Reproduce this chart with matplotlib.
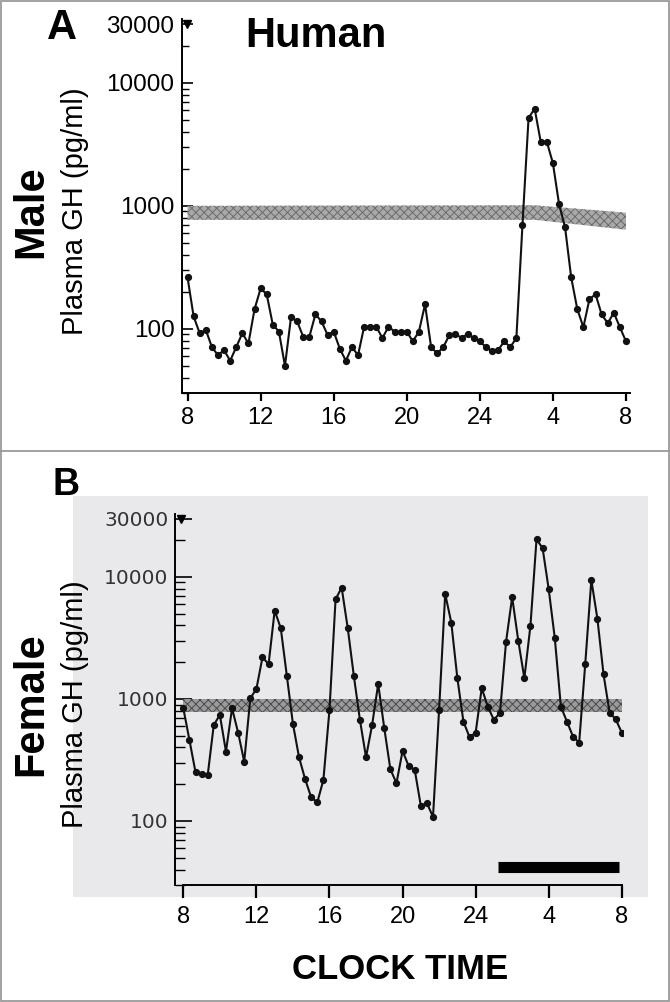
import numpy as np
import matplotlib
matplotlib.use("Agg")
import matplotlib.pyplot as plt
from matplotlib.patches import Rectangle
from matplotlib.lines import Line2D
from matplotlib.ticker import LogLocator, NullFormatter

plt.rcParams['font.family'] = ['Liberation Sans', 'DejaVu Sans']
plt.rcParams['hatch.linewidth'] = 0.7

# clock hours (8 = 08:00, 32 = 08:00 next day), samples every 20 min
tick_hours = [8, 12, 16, 20, 24, 28, 32]
tick_labels = ['8', '12', '16', '20', '24', '4', '8']
y_ticks = [100, 1000, 10000, 30000]
y_tick_labels = ['100', '1000', '10000', '30000']

# plasma GH (pg/ml), panel A (male)
male_gh = [262, 126, 92, 98, 71, 61, 67, 55, 71, 92,
           76, 144, 213, 191, 108, 95, 50, 125, 115, 86,
           86, 131, 115, 89, 95, 69, 55, 71, 61, 104,
           104, 104, 84, 104, 95, 95, 95, 79, 95, 158,
           71, 63, 71, 89, 91, 84, 91, 84, 79, 71,
           66, 67, 79, 71, 84, 700, 5170, 6180, 3316, 3316,
           2224, 1040, 667, 262, 145, 103, 174, 191, 131, 111,
           135, 103, 79]

# plasma GH (pg/ml), panel B (female)
female_gh = [839, 461, 251, 243, 237, 612, 739, 370, 839, 529,
             306, 1013, 1208, 2197, 1924, 5296, 3800, 1544, 624, 333,
             220, 156, 142, 217, 813, 6565, 8166, 3800, 1544, 673,
             333, 612, 1327, 575, 265, 204, 375, 282, 262, 133,
             140, 108, 813, 7260, 4227, 1479, 651, 486, 529, 1224,
             865, 673, 772, 2950, 6820, 3006, 1479, 3981, 20370, 17180,
             7930, 3145, 865, 651, 491, 438, 1936, 9446, 4527, 1594,
             772, 682, 529]

# shaded assay band
band_a_hours = [8, 27, 32]
band_a_lo = [770, 770, 640]
band_a_hi = [1000, 1010, 880]
band_b_hours = [8, 32]
band_b_lo = [780, 780]
band_b_hi = [1000, 1000]

# sleep bar (panel B)
sleep_hours = [25.2, 31.85]
sleep_level = [42, 42]


def style_axes(ax, xlim, major_len, minor_len, ylab_size, xtick_len, xpad):
    ax.set_yscale('log')
    ax.set_ylim(30, 33000)
    ax.set_xlim(*xlim)
    for s in ('top', 'right'):
        ax.spines[s].set_visible(False)
    ax.spines['left'].set_linewidth(1.4)
    ax.spines['bottom'].set_linewidth(1.4)
    ax.set_yticks(y_ticks, labels=y_tick_labels)
    ax.yaxis.set_minor_locator(LogLocator(base=10, subs=np.arange(2, 10)))
    ax.yaxis.set_minor_formatter(NullFormatter())
    ax.set_xticks(tick_hours, labels=tick_labels)
    ax.tick_params(axis='y', which='major', direction='in', length=major_len,
                   width=1.2, pad=5, labelsize=ylab_size)
    ax.tick_params(axis='y', which='minor', direction='in', length=minor_len, width=1.0)
    ax.tick_params(axis='x', which='major', direction='out', length=xtick_len,
                   width=1.6, pad=xpad, labelsize=17)
    ax.plot([0.012], [30000], marker='v', ms=6, color='k',
            transform=ax.get_yaxis_transform(), clip_on=False)


fig = plt.figure(figsize=(6.7, 10.02), dpi=100)

# panel B grey background, frame and separator
fig.patches.append(Rectangle((0.109, 0.1048), 0.858, 0.400, transform=fig.transFigure,
                             facecolor='#e9e9eb', edgecolor='none', zorder=-5))
fig.patches.append(Rectangle((0.0015, 0.001), 0.997, 0.998, transform=fig.transFigure,
                             fill=False, edgecolor='#9a9a9a', lw=1.3, zorder=-4))
fig.lines.append(Line2D([0, 1], [1 - 450.5 / 1002] * 2, transform=fig.transFigure,
                        color='#9a9a9a', lw=1.3, zorder=-4))

# ---- panel A ----
axA = fig.add_axes([0.2709, 0.6077, 0.6694, 0.3732])
axA.patch.set_alpha(0)
style_axes(axA, (7.67, 32.22), 8, 5, 17.5, 6, 4)
times_a = 8 + np.arange(len(male_gh)) / 3
axA.fill_between(band_a_hours, band_a_lo, band_a_hi, facecolor='#a9a9a9',
                 edgecolor='#6c6c6c', hatch='xxxx', linewidth=0, zorder=2)
axA.plot(times_a, male_gh, '-o', color='#111111', lw=1.5, ms=4.2, zorder=3)

# ---- panel B ----
axB = fig.add_axes([0.2619, 0.1170, 0.6675, 0.3704])
axB.set_facecolor('none')
style_axes(axB, (7.57, 32.05), 12, 7, 14.5, 9, 6)
axB.spines['bottom'].set_bounds(8, 32)
for lab in axB.get_yticklabels():
    lab.set_family('DejaVu Sans')
    lab.set_color('#333333')
times_b = 8 + np.arange(len(female_gh)) / 3
axB.fill_between(band_b_hours, band_b_lo, band_b_hi, facecolor='#9a9a9a',
                 edgecolor='#4a4a4a', hatch='xxxx', linewidth=0, zorder=2)
axB.plot(times_b, female_gh, '-o', color='#111111', lw=1.5, ms=4.2, zorder=3)
axB.plot(sleep_hours, sleep_level, color='black', lw=8, solid_capstyle='butt', zorder=3)

# ---- text ----
fig.text(0.0925, 0.9716, 'A', fontsize=30, fontweight='bold', ha='center', va='center')
fig.text(0.4716, 0.964, 'Human', fontsize=30, fontweight='bold', ha='center', va='center')
fig.text(0.0993, 0.516, 'B', fontsize=27, fontweight='bold', ha='center', va='center')
fig.text(0.0463, 0.789, 'Male', fontsize=30, fontweight='bold', rotation=90,
         ha='center', va='center')
fig.text(0.0463, 0.2974, 'Female', fontsize=30, fontweight='bold', rotation=90,
         ha='center', va='center')
fig.text(0.112, 0.7894, 'Plasma GH (pg/ml)', fontsize=21, rotation=90,
         ha='center', va='center')
fig.text(0.112, 0.297, 'Plasma GH (pg/ml)', fontsize=21, rotation=90,
         ha='center', va='center')
fig.text(0.597, 0.032, 'CLOCK TIME', fontsize=25, fontweight='bold',
         ha='center', va='center')

fig.savefig('out.png', dpi=100)
plt.close(fig)
